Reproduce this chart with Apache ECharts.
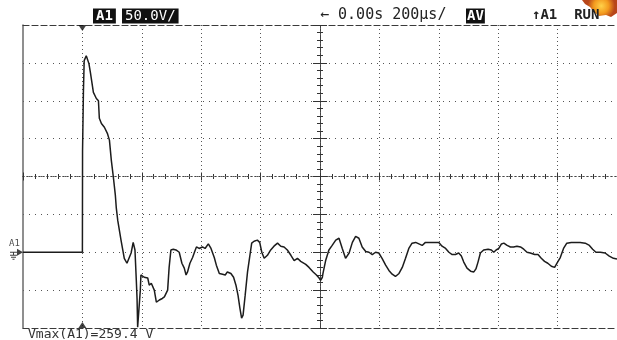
<!DOCTYPE html>
<html>
<head>
<meta charset="utf-8">
<script src="https://cdn.jsdelivr.net/npm/echarts@6/dist/echarts.min.js"></script>
<style>
  html, body { margin: 0; padding: 0; background: #fff; }
  #scope { width: 617px; height: 340px; }
</style>
</head>
<body>
<div id="scope"></div>
<script>
// Channel A1 capture: time in microseconds (relative to trigger), amplitude in volts
const timeUs = [
  -200, 0, 0.5, 3, 3.4, 6, 13,
  22, 27, 37, 47, 54, 57, 64, 74, 84, 91,
  97.5, 104, 111, 114, 119, 130, 141, 150, 164, 171,
  177, 181.5, 184, 186, 192, 195, 197, 203, 208, 220,
  225, 232, 242, 249, 259, 269, 276, 287, 292, 298,
  306, 315, 320, 326, 335, 343, 349, 354, 362, 371,
  380, 384, 393, 404, 413, 424, 433, 444, 451, 461,
  472, 481, 488, 500, 509, 517, 524, 530, 536, 541,
  548, 556, 564, 570, 578, 589, 597, 604, 612, 623,
  634, 645, 657, 668, 679, 690, 702, 713, 724, 735,
  752, 763, 777, 788, 797, 802, 808, 810, 819, 830,
  841, 853, 864, 875, 886, 898, 909, 920, 931, 942,
  954, 965, 976, 987, 998, 1009, 1021, 1032, 1043, 1054,
  1066, 1077, 1088, 1099, 1110, 1122, 1133, 1144, 1155, 1183,
  1200, 1211, 1223, 1234, 1245, 1256, 1267, 1276, 1284, 1295,
  1307, 1318, 1325, 1332, 1340, 1351, 1366, 1377, 1385, 1393,
  1402, 1411, 1419, 1430, 1441, 1452, 1463, 1475, 1486, 1497,
  1508, 1523, 1534, 1545, 1556, 1567, 1579, 1590, 1598, 1609,
  1620, 1631, 1646, 1660, 1676, 1693, 1707, 1718, 1729, 1744,
  1760, 1774, 1788, 1800
];
const voltsA1 = [
  0, 0, 134, 135, 211, 253, 259.4,
  249, 237, 211, 203, 200, 177, 170, 165, 157, 148,
  121, 100, 75, 59, 42, 16, -8, -14.5, -1, 13,
  3, -37, -61, -99, -99, -50, -30, -30, -33, -34,
  -43.5, -41, -50, -66, -63, -61, -59, -50, -20, 3,
  4, 3, 5, 0, -14.5, -21, -30, -26, -14.5, -7,
  3, 7, 5, 7, 5, 11, 5, -7, -17, -28,
  -29, -30, -26, -28, -33, -43.5, -57, -73, -87, -83,
  -57, -26, -4, 12, 14.5, 16, 13, 0, -8, -4,
  3, 8, 12, 8, 7, 3, -4, -11, -8, -12,
  -16, -20, -26, -30, -34, -37, -33, -28, -11, 3,
  9, 16, 18.5, 5, -8, -1, 13, 21, 18.5, 7,
  1, 0, -3, 0, -1, -8, -17, -24, -29, -32,
  -28, -20, -8, 5, 12, 13, 11, 9, 13, 13,
  13, 8, 5, 0, -3, -3, -1, -5, -13, -21,
  -25, -26, -22, -13, -1, 3, 4, 3, 0, 3,
  5, 11, 12, 9, 7, 7, 8, 7, 4, 0,
  -1, -3, -3, -8, -12, -14.5, -18.5, -20, -14.5, -7,
  5, 12, 13, 13, 13, 12, 9, 4, 0, 0,
  -1, -5, -8, -9
];

// Scope settings
const VOLTS_PER_DIV = 50;
const TIME_PER_DIV = 200;      // µs per division
const TIME_MIN = -200, TIME_MAX = 1800;
const VOLT_MIN = -100, VOLT_MAX = 300;
const TRIGGER_T = 0;
const H_DIVS = 10, V_DIVS = 8;

const vmax = Math.max(...voltsA1);
const FONT = '"DejaVu Sans Mono", monospace';
const INK = '#1c1c1c';

const chart = echarts.init(document.getElementById('scope'), null, { renderer: 'canvas' });

const plotRect = { left: 23, top: 25, width: 595, height: 303 };

// Centre crosshair axes (divisions, centred on zero) with fine graduation marks
function crossX(inside) {
  return {
    gridIndex: 1, type: 'value', min: -H_DIVS / 2, max: H_DIVS / 2, interval: 1,
    position: 'bottom',
    axisLine: { show: true, onZero: true, onZeroAxisIndex: 1,
      lineStyle: { color: '#444', width: 1, type: [1, 3] } },
    axisTick: { show: true, inside: inside, length: 4, lineStyle: { color: '#333', width: 1 } },
    minorTick: { show: true, splitNumber: 5, length: 2.5, lineStyle: { color: '#333', width: 1 } },
    axisLabel: { show: false }, splitLine: { show: false }
  };
}
function crossY(inside) {
  return {
    gridIndex: 1, type: 'value', min: -V_DIVS / 2, max: V_DIVS / 2, interval: 1,
    position: 'left',
    axisLine: { show: true, onZero: true, onZeroAxisIndex: 1,
      lineStyle: { color: '#444', width: 1, type: [2, 1] } },
    axisTick: { show: true, inside: inside, length: 7, lineStyle: { color: '#333', width: 1 } },
    minorTick: { show: true, splitNumber: 5, length: 3, lineStyle: { color: '#333', width: 1 } },
    axisLabel: { show: false }, splitLine: { show: false }
  };
}

const borderDash = { color: '#3a3a3a', width: 1.2, type: [6, 3] };

const option = {
  backgroundColor: '#ffffff',
  animation: false,
  grid: [
    Object.assign({ containLabel: false }, plotRect),
    Object.assign({ containLabel: false }, plotRect)
  ],
  xAxis: [
    { // time base
      gridIndex: 0, type: 'value', min: TIME_MIN, max: TIME_MAX, interval: TIME_PER_DIV,
      position: 'bottom',
      axisLine: { show: true, onZero: false, lineStyle: borderDash },
      axisTick: { show: false }, axisLabel: { show: false },
      splitLine: { show: true, showMinLine: false, showMaxLine: false,
        lineStyle: { color: '#555', width: 1, type: [1, 3] } }
    },
    crossX(true),
    crossX(false),
    { // upper frame edge
      gridIndex: 0, type: 'value', min: TIME_MIN, max: TIME_MAX, interval: TIME_PER_DIV,
      position: 'top',
      axisLine: { show: true, onZero: false, lineStyle: borderDash },
      axisTick: { show: false }, axisLabel: { show: false }, splitLine: { show: false }
    }
  ],
  yAxis: [
    { // volts
      gridIndex: 0, type: 'value', min: VOLT_MIN, max: VOLT_MAX, interval: VOLTS_PER_DIV,
      position: 'left',
      axisLine: { show: true, onZero: false, lineStyle: { color: '#6a6a6a', width: 1.5 } },
      axisTick: { show: false }, axisLabel: { show: false },
      splitLine: { show: true, showMinLine: false, showMaxLine: false,
        lineStyle: { color: '#555', width: 1, type: [1, 5] } }
    },
    crossY(true),
    crossY(false)
  ],
  series: [
    {
      name: 'A1', type: 'line', xAxisIndex: 0, yAxisIndex: 0,
      data: timeUs.map((t, i) => [t, voltsA1[i]]),
      showSymbol: false, symbol: 'none', clip: true,
      lineStyle: { color: INK, width: 1.5 },
      z: 5
    },
    { // trigger position markers
      type: 'scatter', xAxisIndex: 0, yAxisIndex: 0, clip: false,
      symbol: 'triangle', symbolSize: [8, 6],
      itemStyle: { color: '#111' },
      data: [
        { value: [TRIGGER_T, VOLT_MAX], symbolRotate: 180, symbolOffset: [0, 3] },
        { value: [TRIGGER_T, VOLT_MIN], symbolRotate: 0, symbolOffset: [0, -3] }
      ],
      z: 6
    },
    { // channel ground reference
      type: 'scatter', xAxisIndex: 0, yAxisIndex: 0, clip: false,
      symbol: 'path://M8 0L14 3.5L8 7ZM1 3L8 3L8 4L1 4ZM4 3L5 3L5 6L4 6ZM1 6L8 6L8 7L1 7ZM2 8L7 8L7 9L2 9ZM3.5 10L5.5 10L5.5 11L3.5 11Z',
      symbolSize: [13, 11], symbolOffset: [-6.5, 2],
      itemStyle: { color: '#111' },
      label: { show: true, formatter: 'A1', position: 'top', distance: 1, offset: [-2, 0],
        color: '#222', fontSize: 9, fontFamily: FONT },
      data: [[TIME_MIN, 0]],
      z: 6
    }
  ],
  graphic: [
    { type: 'text', x: 93, y: 16, z: 10,
      style: { text: 'A1', font: 'bold 14px ' + FONT, fill: '#fff', backgroundColor: '#111',
        padding: [1, 3, 0, 3], verticalAlign: 'middle' } },
    { type: 'text', x: 122, y: 16, z: 10,
      style: { text: VOLTS_PER_DIV.toFixed(1) + 'V/', font: '14px ' + FONT, fill: '#fff',
        backgroundColor: '#111', padding: [1, 3, 0, 3], verticalAlign: 'middle' } },
    { type: 'text', x: 320, y: 15, z: 10,
      style: { text: '\u2190 0.00s ' + TIME_PER_DIV + '\u00b5s/', font: '15px ' + FONT, fill: '#222',
        verticalAlign: 'middle' } },
    { type: 'text', x: 466, y: 16, z: 10,
      style: { text: 'AV', font: 'bold 14px ' + FONT, fill: '#fff', backgroundColor: '#111',
        padding: [1, 1, 0, 1], verticalAlign: 'middle' } },
    { type: 'text', x: 532, y: 15, z: 10,
      style: { text: '\u2191A1  RUN', font: 'bold 14px ' + FONT, fill: '#222', verticalAlign: 'middle' } },
    { type: 'text', x: 28, y: 335, z: 10,
      style: { text: 'Vmax(A1)=' + vmax.toFixed(1) + ' V', font: '13px ' + FONT, fill: '#333',
        verticalAlign: 'middle' } },
    { // warm badge in the corner
      type: 'polygon', z: 4,
      shape: { points: [[582, 0], [585, 4], [590, 7], [594, 12], [599, 16], [606, 15], [611, 17], [617, 13], [617, 0]] },
      style: { fill: new echarts.graphic.RadialGradient(0.55, 0.35, 0.8, [
        { offset: 0, color: '#ffd24a' }, { offset: 0.55, color: '#f39a1e' }, { offset: 1, color: '#b8461a' }]) }
    }
  ]
};

chart.setOption(option);
</script>
</body>
</html>
